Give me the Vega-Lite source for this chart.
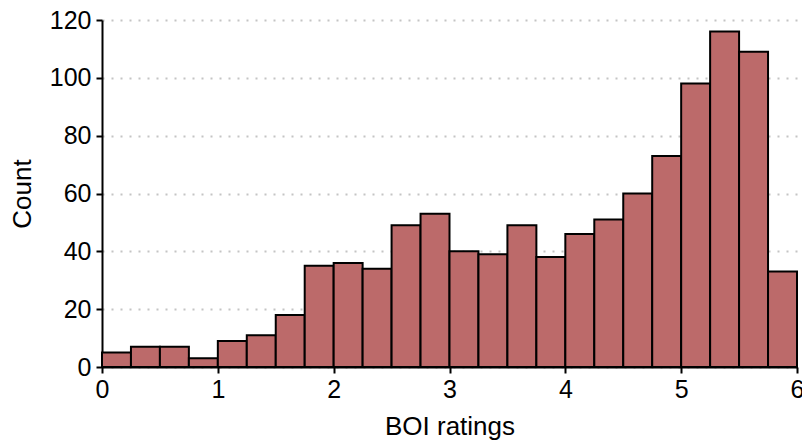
{
  "$schema": "https://vega.github.io/schema/vega-lite/v6.json",
  "width": 695,
  "height": 347,
  "autosize": {"type": "none"},
  "padding": {"left": 102, "top": 20, "right": 5, "bottom": 76},
  "background": "white",
  "config": {
    "view": {"stroke": null},
    "font": "Liberation Sans"
  },
  "data": {
    "values": [
      {"bin_start": 0.0, "bin_end": 0.25, "count": 5},
      {"bin_start": 0.25, "bin_end": 0.5, "count": 7},
      {"bin_start": 0.5, "bin_end": 0.75, "count": 7},
      {"bin_start": 0.75, "bin_end": 1.0, "count": 3},
      {"bin_start": 1.0, "bin_end": 1.25, "count": 9},
      {"bin_start": 1.25, "bin_end": 1.5, "count": 11},
      {"bin_start": 1.5, "bin_end": 1.75, "count": 18},
      {"bin_start": 1.75, "bin_end": 2.0, "count": 35},
      {"bin_start": 2.0, "bin_end": 2.25, "count": 36},
      {"bin_start": 2.25, "bin_end": 2.5, "count": 34},
      {"bin_start": 2.5, "bin_end": 2.75, "count": 49},
      {"bin_start": 2.75, "bin_end": 3.0, "count": 53},
      {"bin_start": 3.0, "bin_end": 3.25, "count": 40},
      {"bin_start": 3.25, "bin_end": 3.5, "count": 39},
      {"bin_start": 3.5, "bin_end": 3.75, "count": 49},
      {"bin_start": 3.75, "bin_end": 4.0, "count": 38},
      {"bin_start": 4.0, "bin_end": 4.25, "count": 46},
      {"bin_start": 4.25, "bin_end": 4.5, "count": 51},
      {"bin_start": 4.5, "bin_end": 4.75, "count": 60},
      {"bin_start": 4.75, "bin_end": 5.0, "count": 73},
      {"bin_start": 5.0, "bin_end": 5.25, "count": 98},
      {"bin_start": 5.25, "bin_end": 5.5, "count": 116},
      {"bin_start": 5.5, "bin_end": 5.75, "count": 109},
      {"bin_start": 5.75, "bin_end": 6.0, "count": 33}
    ]
  },
  "mark": {"type": "rect", "fill": "#bc6a6a", "stroke": "black", "strokeWidth": 2},
  "encoding": {
    "x": {
      "field": "bin_start",
      "type": "quantitative",
      "scale": {"domain": [0, 6], "nice": false, "zero": false},
      "axis": {
        "title": "BOI ratings",
        "values": [0, 1, 2, 3, 4, 5, 6],
        "grid": false,
        "labelFlush": false,
        "labelBound": false,
        "labelOverlap": false,
        "domainColor": "black",
        "domainWidth": 2,
        "tickColor": "black",
        "tickWidth": 2,
        "tickSize": 6,
        "labelFont": "Liberation Sans",
        "labelFontSize": 25,
        "labelColor": "black",
        "labelPadding": 4,
        "titleFont": "Liberation Sans",
        "titleFontSize": 26,
        "titleFontWeight": "normal",
        "titleColor": "black",
        "titlePadding": 11
      }
    },
    "x2": {"field": "bin_end"},
    "y": {
      "field": "count",
      "type": "quantitative",
      "scale": {"domain": [0, 120], "nice": false},
      "axis": {
        "title": "Count",
        "values": [0, 20, 40, 60, 80, 100, 120],
        "grid": true,
        "gridColor": "#c4c4c4",
        "gridDash": [2, 7],
        "gridWidth": 2,
        "labelFlush": false,
        "labelOverlap": false,
        "domainColor": "black",
        "domainWidth": 2,
        "tickColor": "black",
        "tickWidth": 2,
        "tickSize": 6,
        "labelFont": "Liberation Sans",
        "labelFontSize": 25,
        "labelColor": "black",
        "labelPadding": 5,
        "titleFont": "Liberation Sans",
        "titleFontSize": 26,
        "titleFontWeight": "normal",
        "titleColor": "black",
        "titlePadding": 14
      }
    },
    "y2": {"datum": 0}
  }
}
